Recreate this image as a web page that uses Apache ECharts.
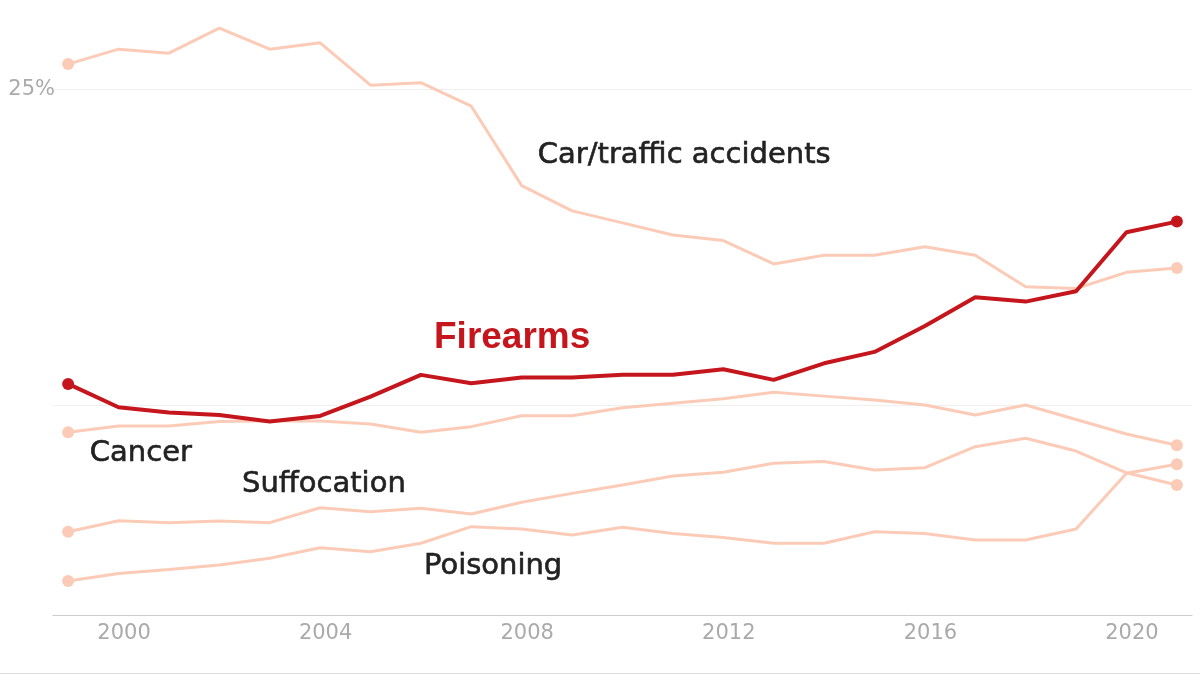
<!DOCTYPE html>
<html>
<head>
<meta charset="utf-8">
<script src="https://cdn.jsdelivr.net/npm/echarts@6/dist/echarts.min.js"></script>
<style>
  html, body { margin: 0; padding: 0; background: #fff; }
  #chart { width: 1200px; height: 675px; }
</style>
</head>
<body>
<div id="chart"></div>
<script>
// Share of child/teen deaths by cause, 1999-2021 (%)
const years = [1999, 2000, 2001, 2002, 2003, 2004, 2005, 2006, 2007, 2008, 2009, 2010,
  2011, 2012, 2013, 2014, 2015, 2016, 2017, 2018, 2019, 2020, 2021];

const carTraffic = [26.19, 26.90, 26.71, 27.90, 26.90, 27.20, 25.19, 25.31, 24.19, 20.42, 19.22, 18.65,
  18.07, 17.81, 16.70, 17.11, 17.11, 17.51, 17.11, 15.61, 15.53, 16.30, 16.51];
const firearms = [11.00, 9.89, 9.64, 9.52, 9.21, 9.48, 10.40, 11.43, 11.03, 11.30, 11.30, 11.43,
  11.43, 11.70, 11.19, 11.98, 12.52, 13.75, 15.12, 14.91, 15.40, 18.20, 18.71];
const cancer = [8.70, 9.00, 9.00, 9.21, 9.25, 9.24, 9.10, 8.70, 8.97, 9.49, 9.49, 9.87,
  10.08, 10.29, 10.60, 10.42, 10.24, 10.00, 9.52, 10.00, 9.31, 8.62, 8.09];
const suffocation = [3.98, 4.50, 4.41, 4.49, 4.41, 5.12, 4.93, 5.09, 4.82, 5.38, 5.80, 6.20,
  6.63, 6.80, 7.23, 7.31, 6.91, 7.02, 8.02, 8.42, 7.81, 6.78, 6.20];
const poisoning = [1.64, 2.00, 2.19, 2.40, 2.72, 3.22, 3.03, 3.43, 4.22, 4.11, 3.82, 4.19,
  3.90, 3.70, 3.43, 3.43, 3.98, 3.90, 3.59, 3.59, 4.11, 6.76, 7.18];

const xTickLabels = [2000, 2004, 2008, 2012, 2016, 2020];
const yTickLabels = [25];

// Colours
const RED = '#c4161c';
const PEACH = '#fccbb7';
const INK = '#222222';
const GREY = '#aaaaaa';

// Where each series name sits, in data space [year, %]
const nameTags = {
  car: { text: 'Car/traffic accidents', at: [2008.32, 21.85] },
  firearms: { text: 'Firearms', at: [2006.26, 13.18] },
  cancer: { text: 'Cancer', at: [1999.43, 7.70] },
  suffocation: { text: 'Suffocation', at: [2002.45, 6.22] },
  poisoning: { text: 'Poisoning', at: [2006.06, 2.35] },
};

function pairs(values) {
  return values.map((v, i) => [years[i], v]);
}

// Dots only at both ends of a line
function endDots(size) {
  return (val, params) => (params.dataIndex === 0 || params.dataIndex === years.length - 1) ? size : 0;
}

function tag(key, font) {
  const t = nameTags[key];
  return {
    symbol: 'circle',
    symbolSize: 0,
    silent: true,
    data: [{ name: t.text, coord: t.at }],
    label: Object.assign({
      show: true,
      position: 'right',
      distance: 0,
      formatter: '{b}',
    }, font),
  };
}

// slight stroke to get closer to the medium weight of the original
const plainFont = {
  fontFamily: 'DejaVu Sans',
  fontSize: 29,
  color: INK,
  textBorderColor: INK,
  textBorderWidth: 0.6,
};

function lightSeries(name, values, key) {
  return {
    name,
    type: 'line',
    data: pairs(values),
    symbol: 'circle',
    symbolSize: endDots(12),
    showSymbol: true,
    itemStyle: { color: PEACH },
    lineStyle: { color: PEACH, width: 3 },
    z: 2,
    markPoint: tag(key, plainFont),
  };
}

const chart = echarts.init(document.getElementById('chart'));

chart.setOption({
  animation: false,
  backgroundColor: '#ffffff',
  grid: { left: 53, right: 8, top: 26, bottom: 59.5 },
  xAxis: {
    type: 'value',
    min: 1998.7,
    max: 2021.3,
    axisLine: { show: true, lineStyle: { color: '#cccccc', width: 1 } },
    axisTick: { show: false },
    splitLine: { show: false },
    axisLabel: {
      customValues: xTickLabels,
      formatter: v => String(v),
      color: GREY,
      fontFamily: 'DejaVu Sans',
      fontSize: 21,
      margin: 8,
      padding: [0, 0, 0, 11],
    },
  },
  yAxis: {
    type: 'value',
    min: 0,
    max: 28,
    interval: 5,
    axisLine: { show: false },
    axisTick: { show: false },
    axisLabel: {
      formatter: v => (yTickLabels.includes(v) ? v + '%' : ''),
      color: GREY,
      fontFamily: 'DejaVu Sans',
      fontSize: 21,
      margin: -2,
      padding: [4, 0, 0, 0],
    },
    splitLine: {
      show: true,
      lineStyle: {
        // one entry per tick: 0, 5, 10, 15, 20, 25, 28 - only 10 and 25 get a rule
        color: ['rgba(0,0,0,0)', 'rgba(0,0,0,0)', '#efefef', 'rgba(0,0,0,0)',
          'rgba(0,0,0,0)', '#efefef', 'rgba(0,0,0,0)'],
        width: 1,
      },
    },
  },
  graphic: [
    {
      type: 'line',
      shape: { x1: 0, y1: 673.5, x2: 1200, y2: 673.5 },
      style: { stroke: '#dddddd', lineWidth: 1 },
      silent: true,
    },
  ],
  series: [
    lightSeries('Car/traffic accidents', carTraffic, 'car'),
    lightSeries('Cancer', cancer, 'cancer'),
    lightSeries('Suffocation', suffocation, 'suffocation'),
    lightSeries('Poisoning', poisoning, 'poisoning'),
    {
      name: 'Firearms',
      type: 'line',
      data: pairs(firearms),
      symbol: 'circle',
      symbolSize: endDots(12),
      showSymbol: true,
      itemStyle: { color: RED },
      lineStyle: { color: RED, width: 4 },
      z: 5,
      markPoint: tag('firearms', {
        fontFamily: 'Liberation Sans',
        fontWeight: 'bold',
        fontSize: 37,
        color: RED,
      }),
    },
  ],
});
</script>
</body>
</html>
